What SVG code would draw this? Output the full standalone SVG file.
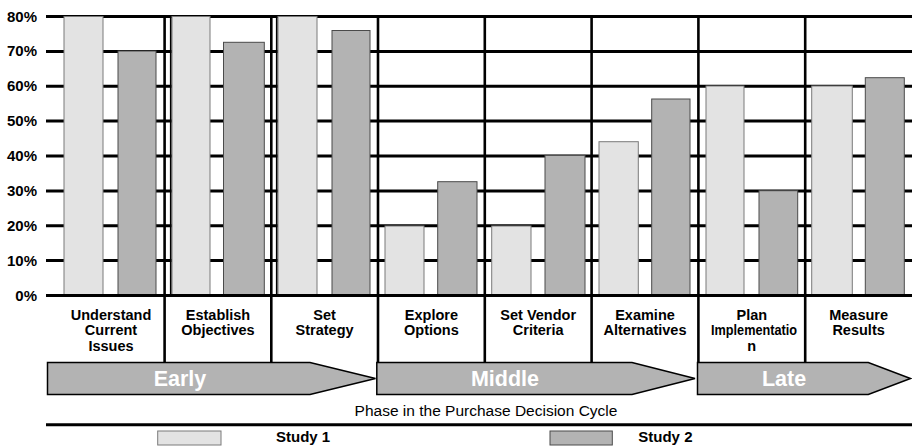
<svg xmlns="http://www.w3.org/2000/svg" width="912" height="447" viewBox="0 0 912 447">
<style>
.grid{stroke:#000;stroke-width:3;fill:none}
.vline{stroke:#000;stroke-width:2.6;fill:none}
.vthin{stroke:#000;stroke-width:1.8;fill:none}
.s1{fill:#e3e3e3;stroke:#7a7a7a;stroke-width:1}
.s2{fill:#b3b3b3;stroke:#4a4a4a;stroke-width:1}
.ylab{font-family:"Liberation Sans",Arial,sans-serif;font-weight:bold;font-size:15px;fill:#000;text-anchor:end}
.cat{font-family:"Liberation Sans",Arial,sans-serif;font-weight:bold;font-size:14.5px;fill:#000;text-anchor:middle}
.phase{fill:#b3b3b3;stroke:#000;stroke-width:1.5}
.ptxt{font-family:"Liberation Sans",Arial,sans-serif;font-weight:bold;font-size:21.5px;fill:#fff;text-anchor:middle}
.axt{font-family:"Liberation Sans",Arial,sans-serif;font-size:15.5px;fill:#000;text-anchor:middle}
.leg{font-family:"Liberation Sans",Arial,sans-serif;font-weight:bold;font-size:15px;fill:#000}
</style>
<rect width="912" height="447" fill="#fff"/>

<g id="gridlines">
<line class="grid" x1="46" y1="16.5" x2="912" y2="16.5"/>
<line class="grid" x1="46" y1="51.4" x2="912" y2="51.4"/>
<line class="grid" x1="46" y1="86.3" x2="912" y2="86.3"/>
<line class="grid" x1="46" y1="121.1" x2="912" y2="121.1"/>
<line class="grid" x1="46" y1="156" x2="912" y2="156"/>
<line class="grid" x1="46" y1="190.9" x2="912" y2="190.9"/>
<line class="grid" x1="46" y1="225.8" x2="912" y2="225.8"/>
<line class="grid" x1="46" y1="260.6" x2="912" y2="260.6"/>
<line class="vline" x1="164.6" y1="15" x2="164.6" y2="362"/>
<line class="vline" x1="271.3" y1="15" x2="271.3" y2="362"/>
<line class="vline" x1="378" y1="15" x2="378" y2="362"/>
<line class="vline" x1="484.8" y1="15" x2="484.8" y2="362"/>
<line class="vline" x1="591.6" y1="15" x2="591.6" y2="362"/>
<line class="vline" x1="698.4" y1="15" x2="698.4" y2="362"/>
<line class="vline" x1="805.2" y1="15" x2="805.2" y2="362"/>
<line class="vthin" x1="170.8" y1="15" x2="170.8" y2="295"/>
<line class="vthin" x1="276.8" y1="15" x2="276.8" y2="295"/>
</g>

<g id="axis-labels">
<text class="ylab" x="37" y="21.5">80%</text>
<text class="ylab" x="37" y="56.4">70%</text>
<text class="ylab" x="37" y="91.3">60%</text>
<text class="ylab" x="37" y="126.1">50%</text>
<text class="ylab" x="37" y="161">40%</text>
<text class="ylab" x="37" y="195.9">30%</text>
<text class="ylab" x="37" y="230.8">20%</text>
<text class="ylab" x="37" y="265.6">10%</text>
<text class="ylab" x="37" y="300.5">0%</text>
</g>

<g id="bars-study1">
<rect class="s1" x="64" y="16.5" width="39" height="279"/>
<rect class="s1" x="172" y="16.5" width="38" height="279"/>
<rect class="s1" x="278" y="16.5" width="39" height="279"/>
<rect class="s1" x="385" y="226" width="39" height="69.5"/>
<rect class="s1" x="491.7" y="226" width="39.3" height="69.5"/>
<rect class="s1" x="599" y="141.7" width="39.3" height="153.8"/>
<rect class="s1" x="706" y="86" width="38" height="209.5"/>
<rect class="s1" x="811.7" y="86" width="40.6" height="209.5"/>
</g>

<g id="bars-study2">
<rect class="s2" x="118" y="51" width="38" height="244.5"/>
<rect class="s2" x="223.5" y="42.3" width="40.8" height="253.2"/>
<rect class="s2" x="332" y="30.5" width="38" height="265"/>
<rect class="s2" x="437.7" y="181.7" width="39.3" height="113.8"/>
<rect class="s2" x="545" y="155.3" width="40" height="140.2"/>
<rect class="s2" x="651.7" y="99" width="38.3" height="196.5"/>
<rect class="s2" x="759" y="190.7" width="38.7" height="104.8"/>
<rect class="s2" x="865.3" y="77.7" width="39" height="217.8"/>
</g>

<g id="baseline">
<line class="grid" x1="46" y1="295.5" x2="912" y2="295.5"/>
</g>

<g id="cat-1"><text class="cat" x="111" y="319.5">Understand</text><text class="cat" x="111" y="335">Current</text><text class="cat" x="111" y="350.5">Issues</text></g>
<g id="cat-2"><text class="cat" x="218" y="319.5">Establish</text><text class="cat" x="218" y="335">Objectives</text></g>
<g id="cat-3"><text class="cat" x="324.6" y="319.5">Set</text><text class="cat" x="324.6" y="335">Strategy</text></g>
<g id="cat-4"><text class="cat" x="431.4" y="319.5">Explore</text><text class="cat" x="431.4" y="335">Options</text></g>
<g id="cat-5"><text class="cat" x="538.2" y="319.5">Set Vendor</text><text class="cat" x="538.2" y="335">Criteria</text></g>
<g id="cat-6"><text class="cat" x="645" y="319.5">Examine</text><text class="cat" x="645" y="335">Alternatives</text></g>
<g id="cat-7"><text class="cat" x="751.8" y="319.5">Plan</text><text class="cat" x="754" y="335" textLength="86" lengthAdjust="spacingAndGlyphs">Implementatio</text><text class="cat" x="751.8" y="350.5">n</text></g>
<g id="cat-8"><text class="cat" x="858.6" y="319.5">Measure</text><text class="cat" x="858.6" y="335">Results</text></g>

<g id="phase-early">
<polygon class="phase" points="47.5,362.5 310,362.5 375.5,378.5 310,394.5 47.5,394.5"/>
<text class="ptxt" x="180" y="385.5">Early</text>
</g>
<g id="phase-middle">
<polygon class="phase" points="376.8,362.5 632,362.5 695,378.5 632,394.5 376.8,394.5"/>
<text class="ptxt" x="505" y="385.5">Middle</text>
</g>
<g id="phase-late">
<polygon class="phase" points="697.5,362.5 868.3,362.5 910.5,378.5 868.3,394.5 697.5,394.5"/>
<text class="ptxt" x="784" y="385.5">Late</text>
</g>

<g id="axis-title">
<text class="axt" x="486" y="416">Phase in the Purchase Decision Cycle</text>
<line class="grid" x1="46" y1="424.7" x2="912" y2="424.7"/>
</g>

<g id="legend">
<rect class="s1" x="157.7" y="431" width="63.3" height="14"/>
<text class="leg" x="276" y="442">Study 1</text>
<rect class="s2" x="550" y="431" width="62.3" height="14"/>
<text class="leg" x="638.3" y="442">Study 2</text>
</g>
</svg>
